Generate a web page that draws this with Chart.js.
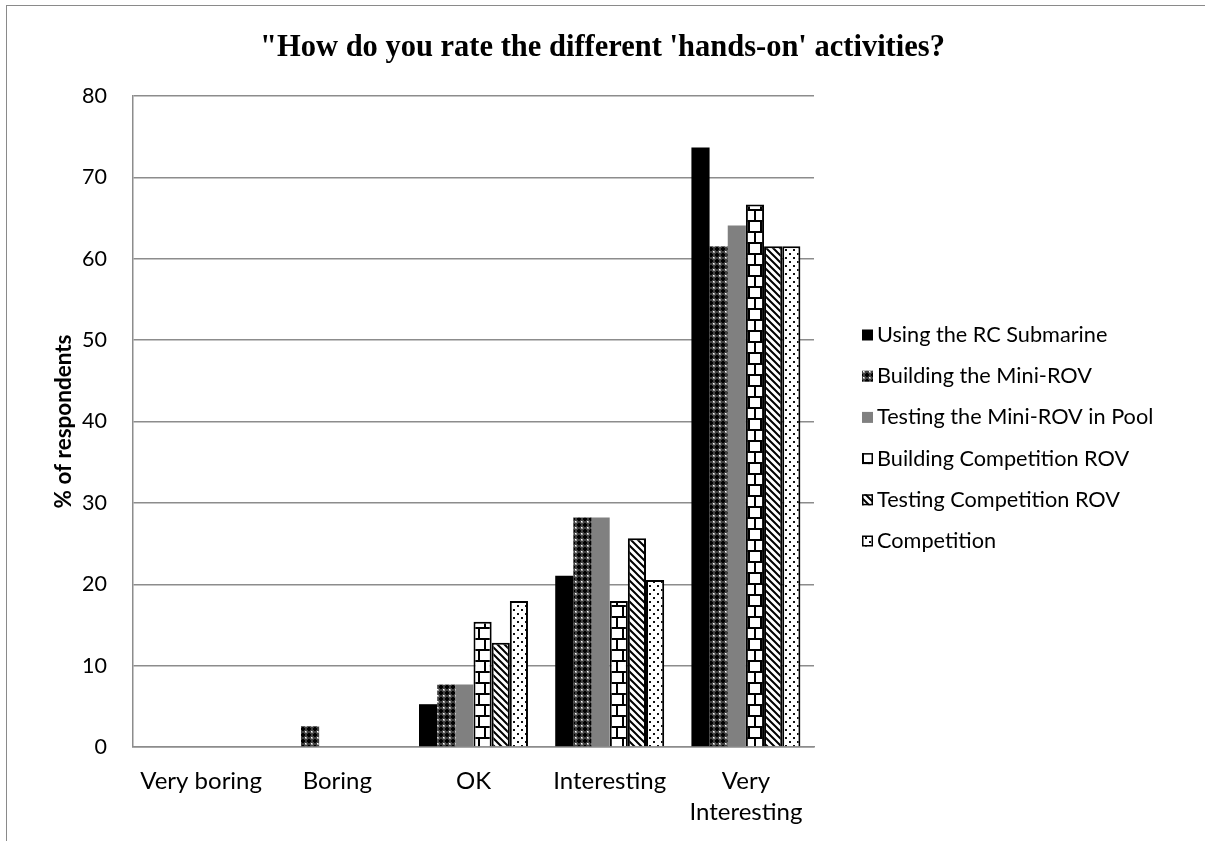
<!DOCTYPE html>
<html><head><meta charset="utf-8">
<script src="https://cdn.jsdelivr.net/npm/chart.js@4"></script>
<style>
html,body{margin:0;padding:0;background:#fff;}
#wrap{position:relative;width:1205px;height:841px;overflow:hidden;}
#frame{position:absolute;left:6px;top:5px;width:1300px;height:900px;border-left:1px solid #8a8a8a;border-top:1px solid #8a8a8a;pointer-events:none}
canvas{position:absolute;left:0;top:0;width:1205px;height:841px}
</style></head><body>
<div id="wrap"><canvas id="c" width="1205" height="841"></canvas><div id="frame"></div></div>
<script>
const chartTitle = "\"How do you rate the different 'hands-on' activities?";
const yAxisTitle = "% of respondents";
const categories = ['Very boring', 'Boring', 'OK', 'Interesting', 'Very Interesting'];
const seriesNames = ['Using the RC Submarine', 'Building the Mini-ROV', 'Testing the Mini-ROV in Pool',
  'Building Competition ROV', 'Testing Competition ROV', 'Competition'];
const usingRC = [0, 0, 5.26, 21.05, 73.68];
const buildingMini = [0, 2.56, 7.69, 28.21, 61.54];
const testingMini = [0, 0, 7.69, 28.21, 64.10];
const buildingComp = [0, 0, 15.38, 17.95, 66.67];
const testingComp = [0, 0, 12.82, 25.64, 61.54];
const competition = [0, 0, 17.95, 20.51, 61.54];
const yMin = 0, yMax = 80, yStep = 10;

const FONT = 'Lato';
const canvas = document.getElementById('c');
const mainCtx = canvas.getContext('2d');

function makePattern(w, h, draw) {
  const t = document.createElement('canvas');
  t.width = w; t.height = h;
  const g = t.getContext('2d');
  draw(g, w, h);
  return mainCtx.createPattern(t, 'repeat');
}
const patChecker = makePattern(6, 6, (g) => {
  g.fillStyle = '#404040'; g.fillRect(0, 0, 6, 6);
  g.fillStyle = '#000';
  g.fillRect(2, 1, 2, 4); g.fillRect(1, 2, 4, 2);
  g.fillStyle = '#a0a0a0';
  g.fillRect(0, 0, 1, 1); g.fillRect(5, 0, 1, 1); g.fillRect(0, 5, 1, 1);
  g.fillStyle = '#fff'; g.fillRect(5, 5, 1, 1);
});
const patBrick = makePattern(12, 22, (g) => {
  g.fillStyle = '#fff'; g.fillRect(0, 0, 12, 22);
  g.fillStyle = '#000';
  g.fillRect(0, 0, 12, 2); g.fillRect(0, 11, 12, 2);
  g.fillRect(4, 2, 2, 9); g.fillRect(10, 13, 2, 9);
});
const patDiag = makePattern(7, 7, (g) => {
  g.fillStyle = '#fff'; g.fillRect(0, 0, 7, 7);
  g.strokeStyle = '#000'; g.lineWidth = 2;
  g.beginPath();
  g.moveTo(-2, -2); g.lineTo(9, 9);
  g.moveTo(-2, 5); g.lineTo(2, 9);
  g.moveTo(5, -2); g.lineTo(9, 2);
  g.stroke();
});
const patDots = makePattern(8, 8, (g) => {
  g.fillStyle = '#fff'; g.fillRect(0, 0, 8, 8);
  g.fillStyle = '#111';
  g.fillRect(1, 1, 2, 2); g.fillRect(5, 5, 2, 2);
});

const seriesValues = [usingRC, buildingMini, testingMini, buildingComp, testingComp, competition];
const fills = ['#000000', patChecker, '#808080', patBrick, patDiag, patDots];
const borders = [0, 0, 0, 2, 2, 2];

const datasets = seriesNames.map((name, i) => ({
  label: name,
  data: seriesValues[i],
  backgroundColor: fills[i],
  borderColor: '#000',
  borderWidth: borders[i],
  categoryPercentage: 0.8,
  barPercentage: 1.0
}));

const overlay = {
  id: 'overlay',
  afterDraw(chart) {
    const ctx = chart.ctx;
    ctx.save();
    ctx.fillStyle = '#000';
    ctx.font = 'bold 30.5px "Liberation Serif"';
    ctx.textAlign = 'center';
    ctx.textBaseline = 'middle';
    ctx.fillText(chartTitle, chart.width / 2, 48);
    const lx = chart.chartArea.right + 48;
    const y0 = 335, dy = 41.2;
    chart.data.datasets.forEach((ds, i) => {
      const y = y0 + i * dy;
      ctx.fillStyle = ds.backgroundColor;
      ctx.fillRect(lx, y - 5.5, 11, 11);
      if (ds.borderWidth) {
        ctx.strokeStyle = '#000'; ctx.lineWidth = 1.5;
        ctx.strokeRect(lx + 0.75, y - 4.75, 9.5, 9.5);
      }
      ctx.fillStyle = '#000';
      ctx.textAlign = 'left';
      ctx.font = '21.7px ' + FONT;
      ctx.fillText(ds.label, lx + 15, y);
    });
    ctx.restore();
  }
};

new Chart(canvas, {
  type: 'bar',
  data: { labels: categories, datasets },
  plugins: [overlay],
  options: {
    responsive: false,
    animation: false,
    devicePixelRatio: 1,
    layout: { padding: { left: 50, right: 391, top: 96, bottom: 0 } },
    plugins: { legend: { display: false }, title: { display: false }, tooltip: { enabled: false } },
    scales: {
      x: {
        afterFit: (s) => { s.height = 94; },
        grid: { display: false, drawTicks: false },
        border: { display: true, color: '#8c8c8c', width: 1.5 },
        ticks: {
          color: '#000', font: { family: FONT, size: 24, lineHeight: 1.29 }, padding: 18.5,
          maxRotation: 0, autoSkip: false,
          callback: function (v) { const l = this.getLabelForValue(v); return l.length > 12 ? l.split(' ') : l; }
        }
      },
      y: {
        min: yMin, max: yMax,
        afterFit: (s) => { s.width = 83; },
        ticks: { stepSize: yStep, color: '#000', font: { family: FONT, size: 21.5 }, padding: 26 },
        grid: { color: '#8c8c8c', lineWidth: 1.5, drawTicks: false },
        border: { display: true, color: '#8c8c8c', width: 1.5 },
        title: { display: true, text: yAxisTitle, color: '#000', font: { family: FONT, size: 22.5, weight: 'bold' }, padding: 0 }
      }
    }
  }
});
</script>
</body></html>
